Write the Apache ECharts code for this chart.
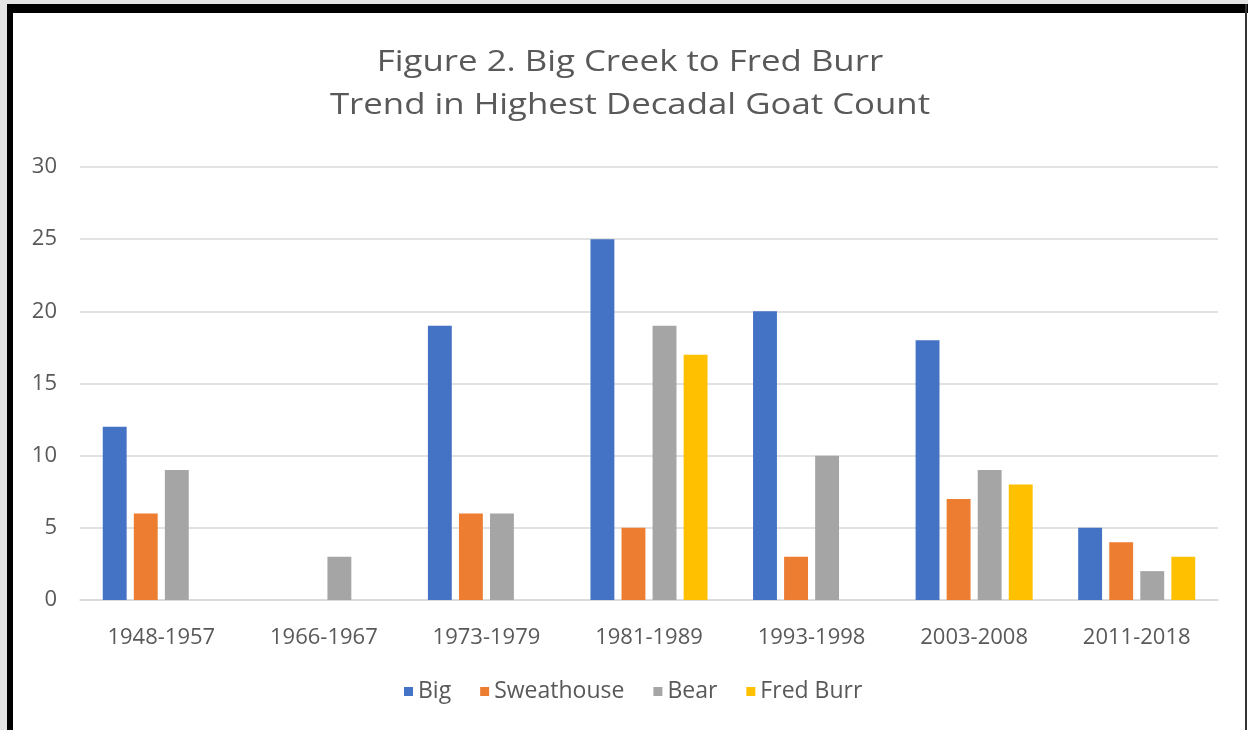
<!DOCTYPE html>
<html>
<head>
<meta charset="utf-8">
<script src="https://cdn.jsdelivr.net/npm/echarts@6/dist/echarts.min.js"></script>
<style>
  html, body { margin: 0; padding: 0; background: #ffffff; }
  #chart { width: 1248px; height: 730px; }
</style>
</head>
<body>
<div id="chart"></div>
<script>
// Decade ranges surveyed and the highest goat count per drainage
const periods = ['1948-1957', '1966-1967', '1973-1979', '1981-1989', '1993-1998', '2003-2008', '2011-2018'];
const big        = [12, null, 19, 25, 20, 18, 5];
const sweathouse = [6, null, 6, 5, 3, 7, 4];
const bear       = [9, 3, 6, 19, 10, 9, 2];
const fredBurr   = [null, null, null, 17, null, 8, 3];

const seriesNames = ['Big', 'Sweathouse', 'Bear', 'Fred Burr'];
const seriesColors = ['#4472c4', '#ed7d31', '#a5a5a5', '#ffc000'];
const seriesData = [big, sweathouse, bear, fredBurr];

const titleLines = ['Figure 2. Big Creek to Fred Burr', 'Trend in Highest Decadal Goat Count'];

const textFont = '"Open Sans", "Liberation Sans", sans-serif';
const textColor = '#595959';

const chart = echarts.init(document.getElementById('chart'), null, { renderer: 'canvas' });

// two-line heading, slightly widened to the figure's proportions
const titleGraphics = titleLines.map((line, i) => ({
  type: 'text',
  x: 630,
  y: 62 + i * 43,
  scaleX: 1.16,
  silent: true,
  style: {
    text: line,
    fill: textColor,
    font: '30px ' + textFont,
    textAlign: 'center',
    textVerticalAlign: 'middle'
  }
}));

chart.setOption({
  backgroundColor: '#ffffff',
  animation: false,
  legend: {
    data: seriesNames,
    top: 680,
    left: 404,
    padding: 0,
    itemWidth: 9,
    itemHeight: 9,
    itemGap: 29,
    icon: 'rect',
    textStyle: { color: textColor, fontFamily: textFont, fontSize: 23 }
  },
  grid: { left: 80, right: 30, top: 167, bottom: 130, containLabel: false },
  xAxis: {
    type: 'category',
    data: periods,
    axisLine: { lineStyle: { color: '#d9d9d9', width: 1.5 } },
    axisTick: { show: false },
    axisLabel: { color: textColor, fontFamily: textFont, fontSize: 22, margin: 27 }
  },
  yAxis: {
    type: 'value',
    min: 0,
    max: 30,
    interval: 5,
    axisLine: { show: false },
    axisTick: { show: false },
    splitLine: { lineStyle: { color: '#d9d9d9', width: 1.5 } },
    axisLabel: { color: textColor, fontFamily: textFont, fontSize: 22, margin: 23 }
  },
  series: seriesNames.map((name, i) => ({
    name: name,
    type: 'bar',
    data: seriesData[i],
    barGap: '30%',
    barCategoryGap: '28%',
    itemStyle: { color: seriesColors[i] }
  })),
  graphic: titleGraphics.concat([
    // frame around the figure
    { type: 'rect', left: 0, top: 0, shape: { width: 7, height: 730 }, style: { fill: '#e4e4e4' }, silent: true },
    { type: 'rect', left: 0, top: 0, shape: { width: 1248, height: 4 }, style: { fill: '#e4e4e4' }, silent: true },
    { type: 'rect', left: 7, top: 4, shape: { width: 1241, height: 9 }, style: { fill: '#000000' }, silent: true },
    { type: 'rect', left: 7, top: 4, shape: { width: 6, height: 726 }, style: { fill: '#000000' }, silent: true },
    { type: 'rect', left: 1245, top: 4, shape: { width: 2, height: 726 }, style: { fill: '#333333' }, silent: true }
  ])
});
</script>
</body>
</html>
